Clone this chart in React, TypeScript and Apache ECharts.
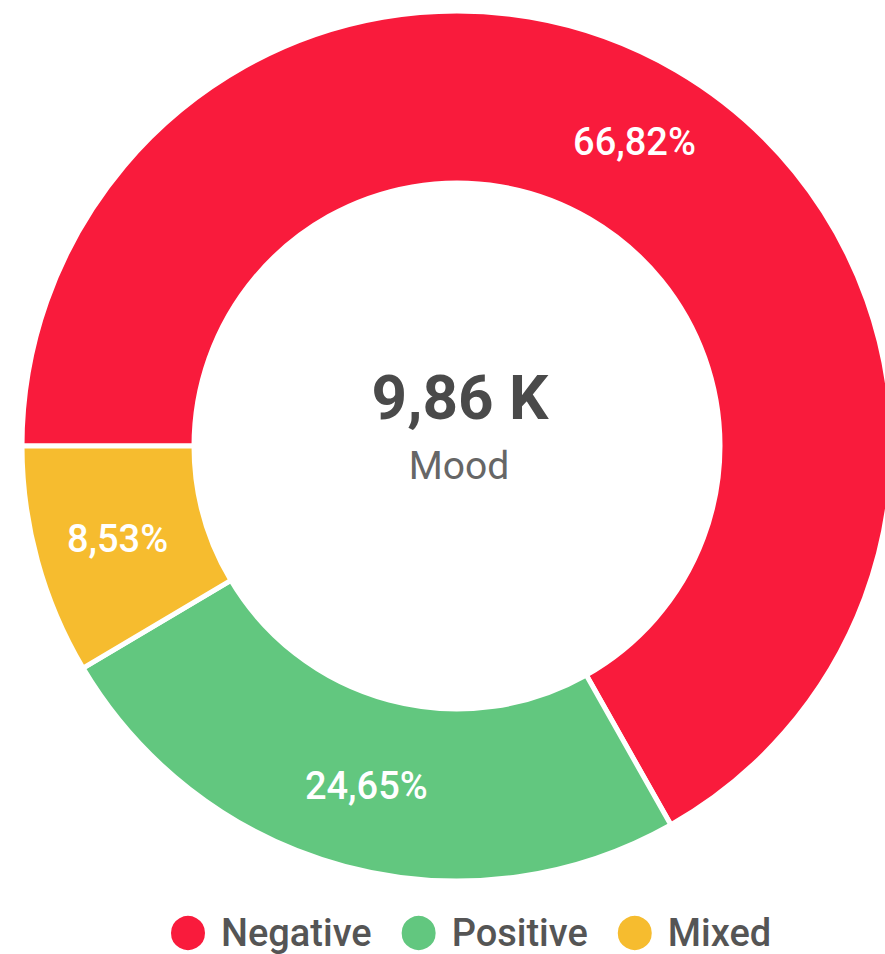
import React, { useEffect, useRef } from "react";
import * as echarts from "echarts";

const categories = ["Negative", "Positive", "Mixed"];
const values = [6588, 2430, 841];
const colors = ["#F91B3C", "#62C77F", "#F6BC2F"];
const totalLabel = "9,86 K";
const centerTitle = "Mood";

export default function App() {
  const ref = useRef<HTMLDivElement>(null);
  useEffect(() => {
    document.body.style.margin = "0";
    const chart = echarts.init(ref.current!, undefined, { renderer: "svg" });
    const total = values.reduce((a, b) => a + b, 0);
    chart.setOption({
      animation: false,
      color: colors,
      legend: {
        bottom: -3,
        left: 164,
        icon: "circle",
        itemWidth: 36,
        itemHeight: 36,
        itemGap: 28,
        textStyle: { fontSize: 38, color: "#555555", fontFamily: "Roboto", fontWeight: 500, padding: [0, 0, 0, 10] },
        data: categories,
      },
      graphic: [
        {
          type: "text",
          x: 460,
          y: 397,
          style: {
            text: totalLabel,
            textAlign: "center",
            textVerticalAlign: "middle",
            fill: "#4a4a4a",
            font: "bold 62px Roboto",
          },
        },
        {
          type: "text",
          x: 459,
          y: 466,
          style: {
            text: centerTitle,
            textAlign: "center",
            textVerticalAlign: "middle",
            fill: "#666666",
            font: "39px Roboto",
          },
        },
      ],
      series: [
        {
          type: "pie",
          center: [457, 446],
          radius: [263, 435],
          startAngle: 180,
          clockwise: true,
          avoidLabelOverlap: false,
          itemStyle: { borderColor: "#ffffff", borderWidth: 5 },
          label: {
            position: "inside",
            color: "#ffffff",
            fontSize: 38,
            fontWeight: 500,
            fontFamily: "Roboto",
            formatter: (p: any) => ((p.value / total) * 100).toFixed(2).replace(".", ",") + "%",
          },
          labelLine: { show: false },
          emphasis: { disabled: true },
          data: categories.map((c, i) => ({ name: c, value: values[i] })),
        },
      ],
    });
    return () => chart.dispose();
  }, []);
  return <div ref={ref} style={{ width: 885, height: 954 }} />;
}
